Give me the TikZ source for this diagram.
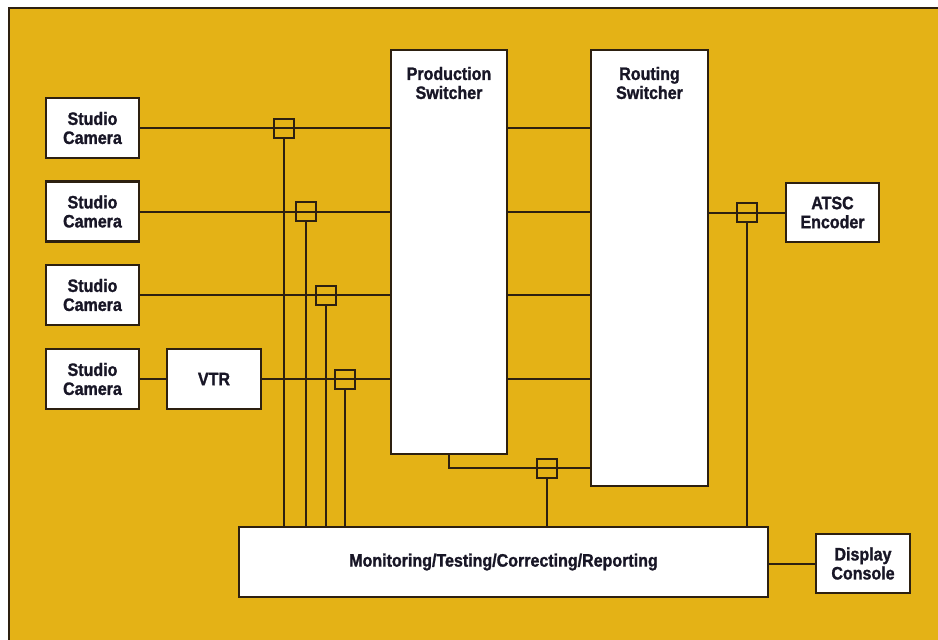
\documentclass[tikz,border=0pt]{standalone}
\usepackage{fontspec}
\newfontfamily\lblfont{Liberation Sans}[FakeStretch=0.89, BoldFeatures={FakeBold=1.3}]
\definecolor{bgyellow}{RGB}{228,178,22}
\definecolor{lnc}{RGB}{45,32,16}
\definecolor{txc}{RGB}{24,22,38}
\tikzset{
  box/.style={draw=lnc, line width=2.4pt, fill=white, inner sep=0pt, text=txc,
    font=\lblfont\bfseries\fontsize{18}{19}\selectfont, align=center},
  jbox/.style={draw=lnc, line width=2pt, minimum width=20pt, minimum height=19pt, inner sep=0pt},
  wire/.style={draw=lnc, line width=2pt},
  lbl/.style={text=txc, font=\lblfont\bfseries\fontsize{18}{19}\selectfont, align=center, inner sep=0pt}
}
\begin{document}
\begin{tikzpicture}[x=1pt,y=-1pt]
\useasboundingbox (0,0) rectangle (938,640);
\fill[white] (0,0) rectangle (938,640);
\fill[bgyellow] (9,8) rectangle (938,640);
\draw[lnc, line width=1.6pt] (9,640) -- (9,8) -- (938,8);

% boxes
\node[box, minimum width=93pt, minimum height=60pt] (cam1) at (92.5,128) {Studio\\Camera};
\node[box, minimum width=93pt, minimum height=60pt] (cam2) at (92.5,211.5) {Studio\\Camera};
\node[box, minimum width=93pt, minimum height=60pt] (cam3) at (92.5,295) {Studio\\Camera};
\node[box, minimum width=93pt, minimum height=60pt] (cam4) at (92.5,379) {Studio\\Camera};
\node[box, minimum width=94pt, minimum height=60pt] (vtr) at (214,379) {VTR};
\node[box, minimum width=116pt, minimum height=404pt] (prod) at (449,252) {};
\node[lbl] (prodl) at (449,83) {Production\\Switcher};
\node[box, minimum width=117pt, minimum height=436pt] (rout) at (649.5,268) {};
\node[lbl] (routl) at (649.5,83) {Routing\\Switcher};
\node[box, minimum width=93pt, minimum height=59pt] (atsc) at (832.5,212.5) {ATSC\\Encoder};
\node[box, minimum width=529pt, minimum height=70pt] (mon) at (503.5,562) {Monitoring/Testing/Correcting/Reporting};
\node[box, minimum width=94pt, minimum height=59pt] (disp) at (863,563.5) {Display\\Console};

% junctions
\node[jbox] (j1) at (284,128) {};
\node[jbox] (j2) at (306,211.5) {};
\node[jbox] (j3) at (326,295) {};
\node[jbox] (j4) at (345,379) {};
\node[jbox] (j5) at (547,468) {};
\node[jbox] (j6) at (747,212.5) {};

% wires
\draw[wire] (cam1.east) -- (cam1.east -| prod.west);
\draw[wire] (cam2.east) -- (cam2.east -| prod.west);
\draw[wire] (cam3.east) -- (cam3.east -| prod.west);
\draw[wire] (cam4.east) -- (vtr.west);
\draw[wire] (vtr.east) -- (vtr.east -| prod.west);
\draw[wire] (cam1 -| prod.east) -- (cam1 -| rout.west);
\draw[wire] (cam2 -| prod.east) -- (cam2 -| rout.west);
\draw[wire] (cam3 -| prod.east) -- (cam3 -| rout.west);
\draw[wire] (cam4 -| prod.east) -- (cam4 -| rout.west);
\draw[wire] (prod.south) |- (j5 -| rout.west);
\draw[wire] (atsc.west) -- (atsc.west -| rout.east);
\draw[wire] (disp.west) -- (disp.west -| mon.east);
\draw[wire] (j1.south) -- (j1 |- mon.north);
\draw[wire] (j2.south) -- (j2 |- mon.north);
\draw[wire] (j3.south) -- (j3 |- mon.north);
\draw[wire] (j4.south) -- (j4 |- mon.north);
\draw[wire] (j5.south) -- (j5 |- mon.north);
\draw[wire] (j6.south) -- (j6 |- mon.north);
\end{tikzpicture}
\end{document}
